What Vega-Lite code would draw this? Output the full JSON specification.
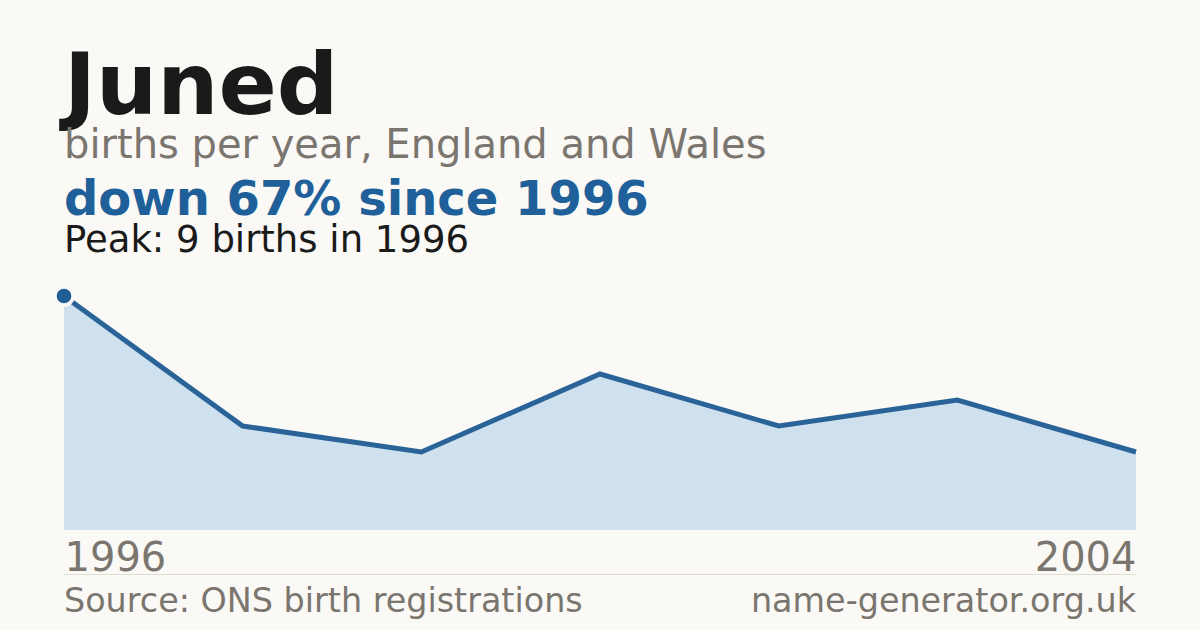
{
  "$schema": "https://vega.github.io/schema/vega-lite/v6.json",
  "width": 1072,
  "height": 234,
  "autosize": "none",
  "padding": {"left": 64, "right": 64, "top": 296, "bottom": 100},
  "background": "#faf9f5",
  "title": {
    "text": "Juned",
    "subtitle": "births per year, England and Wales",
    "anchor": "start",
    "frame": "group",
    "font": "DejaVu Sans",
    "fontSize": 86,
    "fontWeight": "bold",
    "color": "#1a1a1a",
    "subtitleFont": "DejaVu Sans",
    "subtitleFontSize": 40,
    "subtitleColor": "#7a766f",
    "subtitlePadding": -6,
    "offset": 10
  },
  "datasets": {
    "births": [
      {"i": 0, "births": 9},
      {"i": 1, "births": 4},
      {"i": 2, "births": 3},
      {"i": 3, "births": 6},
      {"i": 4, "births": 4},
      {"i": 5, "births": 5},
      {"i": 6, "births": 3}
    ],
    "notes": [
      {"kind": "headline", "text": "down 67% since 1996"},
      {"kind": "peak", "text": "Peak: 9 births in 1996"},
      {"kind": "source", "text": "Source: ONS birth registrations"},
      {"kind": "site", "text": "name-generator.org.uk"}
    ]
  },
  "layer": [
    {
      "data": {"name": "births"},
      "mark": {"type": "area", "color": "#cfe0ef", "interpolate": "linear"},
      "encoding": {
        "x": {
          "field": "i",
          "type": "quantitative",
          "scale": {"domain": [0, 6], "nice": false},
          "axis": {"values": [0, 6], "labelExpr": "datum.value == 0 ? '1996' : '2004'"}
        },
        "y": {"field": "births", "type": "quantitative", "scale": {"domain": [0, 9], "nice": false}}
      }
    },
    {
      "data": {"name": "births"},
      "mark": {"type": "line", "color": "#2a6398", "strokeWidth": 5, "strokeJoin": "miter"},
      "encoding": {
        "x": {"field": "i", "type": "quantitative"},
        "y": {"field": "births", "type": "quantitative"}
      }
    },
    {
      "data": {"name": "births"},
      "transform": [
        {"joinaggregate": [{"op": "max", "field": "births", "as": "peak"}]},
        {"filter": "datum.births == datum.peak"}
      ],
      "mark": {"type": "point", "filled": true, "color": "#1f5f96", "size": 330, "stroke": "#faf9f5", "strokeWidth": 3.5, "opacity": 1},
      "encoding": {
        "x": {"field": "i", "type": "quantitative"},
        "y": {"field": "births", "type": "quantitative"}
      }
    },
    {
      "data": {"name": "notes"},
      "transform": [{"filter": "datum.kind == 'headline'"}],
      "mark": {"type": "text", "align": "left", "baseline": "alphabetic", "font": "DejaVu Sans", "fontSize": 48, "fontWeight": "bold", "color": "#20609a"},
      "encoding": {
        "x": {"datum": 0, "type": "quantitative"},
        "y": {"datum": 12.115, "type": "quantitative"},
        "text": {"field": "text"}
      }
    },
    {
      "data": {"name": "notes"},
      "transform": [{"filter": "datum.kind == 'peak'"}],
      "mark": {"type": "text", "align": "left", "baseline": "alphabetic", "font": "DejaVu Sans", "fontSize": 37, "color": "#1a1a1a"},
      "encoding": {
        "x": {"datum": 0, "type": "quantitative"},
        "y": {"datum": 10.69, "type": "quantitative"},
        "text": {"field": "text"}
      }
    },
    {
      "data": {"name": "notes"},
      "transform": [{"filter": "datum.kind == 'source'"}],
      "mark": {"type": "rule", "color": "#dedbd3", "strokeWidth": 1},
      "encoding": {
        "x": {"datum": 0, "type": "quantitative"},
        "x2": {"datum": 6},
        "y": {"datum": -1.71, "type": "quantitative"}
      }
    },
    {
      "data": {"name": "notes"},
      "transform": [{"filter": "datum.kind == 'source'"}],
      "mark": {"type": "text", "align": "left", "baseline": "alphabetic", "font": "DejaVu Sans", "fontSize": 33.4, "color": "#7a766f"},
      "encoding": {
        "x": {"datum": 0, "type": "quantitative"},
        "y": {"datum": -3.154, "type": "quantitative"},
        "text": {"field": "text"}
      }
    },
    {
      "data": {"name": "notes"},
      "transform": [{"filter": "datum.kind == 'site'"}],
      "mark": {"type": "text", "align": "right", "baseline": "alphabetic", "font": "DejaVu Sans", "fontSize": 33.4, "color": "#7a766f"},
      "encoding": {
        "x": {"datum": 6, "type": "quantitative"},
        "y": {"datum": -3.154, "type": "quantitative"},
        "text": {"field": "text"}
      }
    }
  ],
  "config": {
    "view": {"stroke": null},
    "axisY": {"disable": true},
    "axisX": {
      "title": null,
      "grid": false,
      "domain": false,
      "ticks": false,
      "tickSize": 0,
      "labelFlush": true,
      "labelFont": "DejaVu Sans",
      "labelFontSize": 40,
      "labelColor": "#7a766f",
      "labelBaseline": "alphabetic",
      "labelPadding": 40
    }
  }
}
